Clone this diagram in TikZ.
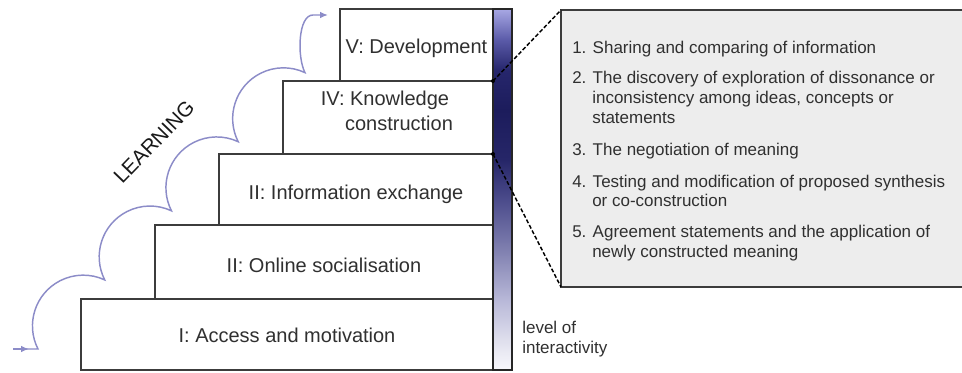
\documentclass[tikz,border=0pt]{standalone}
\usepackage{fontspec}
\setmainfont{Liberation Sans}
\usetikzlibrary{arrows.meta}
\definecolor{boxline}{HTML}{3C3C3C}
\definecolor{txt}{HTML}{303030}
\definecolor{learncol}{HTML}{8C8CC8}
\definecolor{panelfill}{HTML}{EDEDED}
\definecolor{sA}{HTML}{F8F8FC}
\definecolor{sB}{HTML}{E8E8F2}
\definecolor{sC}{HTML}{B8B8D8}
\definecolor{sD}{HTML}{8080B0}
\definecolor{sE}{HTML}{4C4C8C}
\definecolor{sF}{HTML}{262668}
\definecolor{sG}{HTML}{1C1C5C}
\definecolor{sH}{HTML}{26266C}
\definecolor{sI}{HTML}{5A5AA8}
\definecolor{sJ}{HTML}{A8A8E4}
\pgfdeclareverticalshading{interact}{100bp}{color(0bp)=(sA); color(25bp)=(sA); color(27.8bp)=(sB); color(34.7bp)=(sC); color(41.6bp)=(sD); color(48.5bp)=(sE); color(54.1bp)=(sF); color(61bp)=(sG); color(66.5bp)=(sH); color(70.7bp)=(sI); color(75bp)=(sJ); color(100bp)=(sJ)}
\begin{document}
\begin{tikzpicture}[x=0.75pt,y=-0.75pt,
  stepbox/.style={draw=boxline, line width=1pt, fill=white},
  steplabel/.style={font=\fontsize{15}{18}\selectfont, text=txt, anchor=base, inner sep=0pt},
  itemtext/.style={font=\fontsize{12.75}{15}\selectfont, text=txt, anchor=base west, inner sep=0pt},
  learncurve/.style={draw=learncol, line width=1.1pt},
  zoomline/.style={draw=black, line width=1.1pt, dash pattern=on 3pt off 1.6pt},
  tipstyle/.style={-{Latex[length=6pt,width=5pt]}}
]
\useasboundingbox (0,0) rectangle (962,372);

% staircase
\draw[stepbox] (340,9) rectangle (493,81);
\draw[stepbox] (283,81) rectangle (493,154);
\draw[stepbox] (219,154) rectangle (493,225);
\draw[stepbox] (155,225) rectangle (493,299);
\draw[stepbox] (81,299) rectangle (493,370);

\node[steplabel] (s5) at (416.5,53) {V: Development};
\node[steplabel] (s4a) at (385,105) {IV: Knowledge};
\node[steplabel] (s4b) at (399,130) {construction};
\node[steplabel] (s3) at (356,199) {II: Information exchange};
\node[steplabel] (s2) at (324,272) {II: Online socialisation};
\node[steplabel] (s1) at (287,342) {I: Access and motivation};

% interactivity bar
\shade[shading=interact] (493,9) rectangle (512,370);
\draw[draw=black!85, line width=1pt] (493,9) rectangle (512,370);
\node[itemtext] (lev1) at (522,333) {level of};
\node[itemtext] (lev2) at (522,353) {interactivity};

% panel
\coordinate (pNW) at (561,10);
\coordinate (pSW) at (561,287);
\draw[draw=boxline, line width=1pt, fill=panelfill] (pNW) rectangle (980,287);

\node[itemtext] (i1) at (572,53) {1. Sharing and comparing of information};
\node[itemtext] (i2a) at (572,83) {2. The discovery of exploration of dissonance or};
\node[itemtext] (i2b) at (592,103) {inconsistency among ideas, concepts or};
\node[itemtext] (i2c) at (592,123) {statements};
\node[itemtext] (i3) at (572,155) {3. The negotiation of meaning};
\node[itemtext] (i4a) at (572,187) {4. Testing and modification of proposed synthesis};
\node[itemtext] (i4b) at (592,206) {or co-construction};
\node[itemtext] (i5a) at (572,237) {5. Agreement statements and the application of};
\node[itemtext] (i5b) at (592,257) {newly constructed meaning};

% zoom lines
\coordinate (kTop) at (493,81);
\coordinate (kBot) at (493,154);
\draw[zoomline] (kTop) -- (pNW);
\draw[zoomline] (kBot) -- (pSW);
\fill (kTop) circle (2);
\fill (kBot) circle (2);

% learning curve
\coordinate (lA) at (13,349);
\coordinate (lM) at (29,349);
\coordinate (lB) at (38,349);
\coordinate (lEnd) at (313,15);
\coordinate (lTip) at (328,15);
\draw[learncurve, tipstyle] (lA) -- (lB)
  arc[start angle=153, end angle=295, radius=50.8]
  arc[start angle=153, end angle=295, radius=50.8]
  arc[start angle=153, end angle=295, radius=50.8]
  arc[start angle=153, end angle=295, radius=50.8]
  .. controls +(-8,-16) and +(-15,0) .. (lEnd) -- (lTip);
\draw[learncurve, tipstyle] (lA) -- (lM);

\node[rotate=46, font=\fontsize{15.5}{18}\selectfont, text=black!90, inner sep=0pt] (learn) at (154,142) {LEARNING};
\end{tikzpicture}
\end{document}
